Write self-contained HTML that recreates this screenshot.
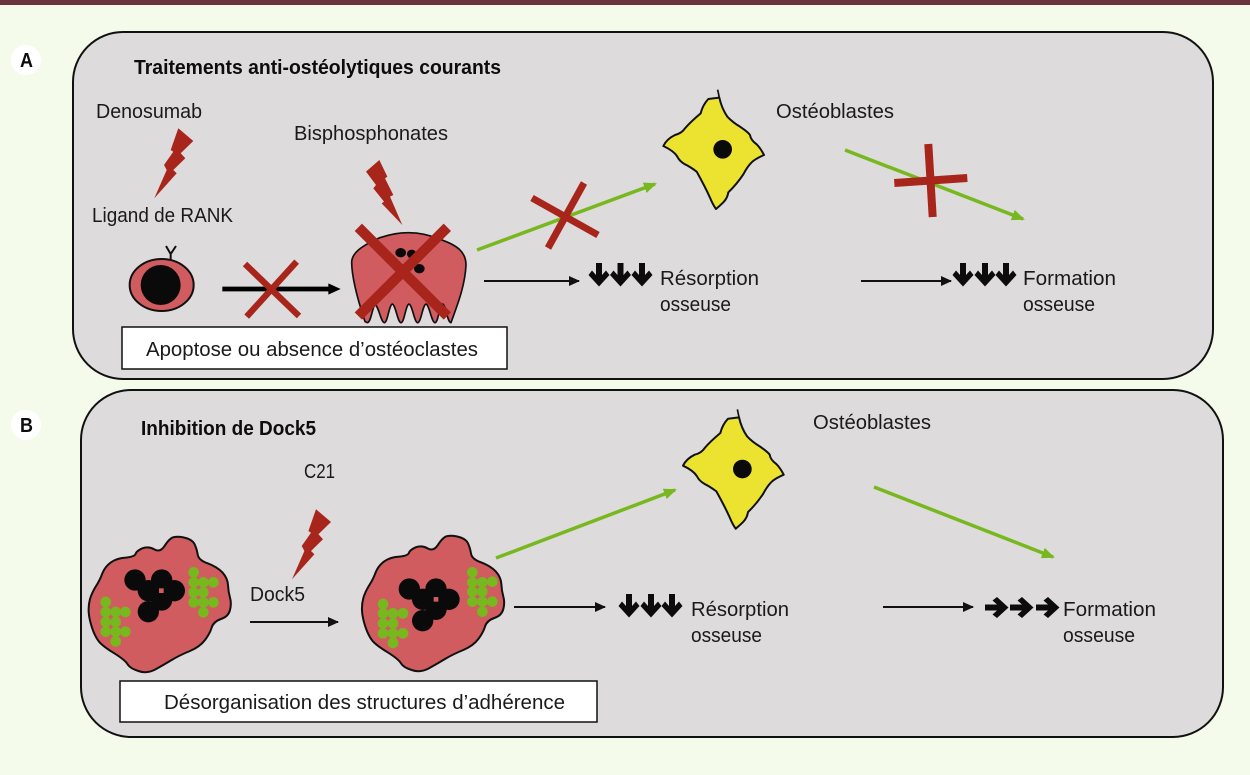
<!DOCTYPE html>
<html lang="fr"><head><meta charset="utf-8"><title>Dock5</title>
<style>html,body{margin:0;padding:0;background:#f5fbea;width:1250px;height:775px;overflow:hidden}svg{display:block}text{font-family:"Liberation Sans",sans-serif;font-size:20px;fill:#1a1a1a}.b{font-weight:bold;fill:#0d0d0d}</style></head><body>
<svg width="1250" height="775" viewBox="0 0 1250 775" xmlns="http://www.w3.org/2000/svg">
<defs>
<marker id="k" markerWidth="11" markerHeight="10" refX="10" refY="5" orient="auto" markerUnits="userSpaceOnUse"><path d="M0 0L11 5L0 10Z" fill="#111"/></marker>
<marker id="g" markerWidth="13" markerHeight="11" refX="11" refY="5.500" orient="auto" markerUnits="userSpaceOnUse"><path d="M0 0L13 5.500L0 11Z" fill="#77b81e"/></marker>
<polygon id="da" points="-3,-12 3,-12 3,0 7,-4.500 10.500,0 0,11.500 -10.500,0 -7,-4.500 -3,0" fill="#0c0c0c"/>
<polygon id="bolt" points="178.300,128.300 193.300,141 180.700,153.300 185.300,158.300 173.300,170 176.700,173.300 154.300,198.300 166.700,170 164,165 173.300,151.700 170.700,150" fill="#a8251c"/>
<g id="yc" transform="translate(640 85) scale(.33333)">
<path d="M238 38Q245 70 262 95Q278 112 300 125Q325 142 330 150Q332 165 350 178Q362 190 372 210Q345 222 335 232Q322 245 310 268Q290 298 265 322Q262 340 250 352Q240 362 228 372Q218 358 210 338Q195 305 170 260Q150 245 135 238Q118 228 112 215Q102 198 70 183Q80 162 105 150Q125 145 135 130Q150 112 182 85Q188 60 205 42Q222 40 238 38Z" fill="#ebe330" stroke="#111" stroke-width="6" stroke-linejoin="round"/>
<path d="M233 14L238 38" stroke="#111" stroke-width="5" fill="none"/>
<circle cx="248" cy="193" r="28" fill="#0a0a0a"/>
</g>
<path id="blob" d="M15 222Q20 205 32 185Q45 165 52 145Q60 125 78 112Q95 100 122 98Q150 95 152 86Q155 78 172 70Q190 63 208 73Q225 83 238 64Q250 45 260 39Q270 33 295 37Q320 42 328 56Q335 70 338 88Q340 105 368 115Q395 125 412 142Q428 160 429 180Q430 200 435 218Q440 235 435 255Q430 275 408 282Q385 290 380 308Q375 325 360 345Q345 365 315 378Q285 390 260 405Q235 420 210 434Q185 447 160 438Q135 430 128 418Q120 405 88 385Q55 365 42 350Q30 335 21 308Q12 280 11 260Q10 240 15 222Z" fill="#d05c60" stroke="#111" stroke-width="6" stroke-linejoin="round"/>
</defs>
<rect width="1250" height="775" fill="#f5fbea"/>
<rect width="1250" height="5" fill="#6b3540"/>
<rect x="73" y="32" width="1140" height="347" rx="50" fill="#dddbdc" stroke="#111" stroke-width="2"/>
<rect x="81" y="390" width="1142" height="347" rx="50" fill="#dddbdc" stroke="#111" stroke-width="2"/>
<circle cx="26" cy="60" r="15" fill="#fff"/><circle cx="26" cy="425" r="15" fill="#fff"/>
<text x="20" y="67" class="b" textLength="13" lengthAdjust="spacingAndGlyphs">A</text>
<text x="20" y="432" class="b" textLength="13" lengthAdjust="spacingAndGlyphs">B</text>

<!-- Panel A text -->
<text x="134" y="74" class="b" textLength="367" lengthAdjust="spacingAndGlyphs">Traitements anti-ostéolytiques courants</text>
<text x="96" y="118" textLength="106" lengthAdjust="spacingAndGlyphs">Denosumab</text>
<text x="92" y="222" textLength="141" lengthAdjust="spacingAndGlyphs">Ligand de RANK</text>
<text x="294" y="140" textLength="154" lengthAdjust="spacingAndGlyphs">Bisphosphonates</text>
<text x="776" y="118" textLength="118" lengthAdjust="spacingAndGlyphs">Ostéoblastes</text>
<text x="660" y="285" textLength="99" lengthAdjust="spacingAndGlyphs">Résorption</text>
<text x="660" y="311" textLength="71" lengthAdjust="spacingAndGlyphs">osseuse</text>
<text x="1023" y="285" textLength="93" lengthAdjust="spacingAndGlyphs">Formation</text>
<text x="1023" y="311" textLength="72" lengthAdjust="spacingAndGlyphs">osseuse</text>

<!-- Panel A graphics -->
<use href="#bolt"/>
<g transform="translate(80 90) scale(.33333)">
<ellipse cx="245" cy="585" rx="96" ry="78" fill="#d05c60" stroke="#111" stroke-width="6"/>
<circle cx="242" cy="585" r="60" fill="#0a0a0a"/>
<path d="M258 468L272 492L288 468M272 492V512" fill="none" stroke="#111" stroke-width="6"/>
<path d="M427 597H750" stroke="#000" stroke-width="14"/><path d="M745 580L782 597L745 614Z" fill="#000"/>
<path d="M495 522L657 678M650 515L500 680" stroke="#a8251c" stroke-width="19"/>
</g>
<g transform="translate(340 150) scale(.33333)">
<polygon points="118,30 78,65 108,105 100,115 132,155 125,160 187,225 150,140 160,135 135,85 142,80" fill="#a8251c"/>
<path d="M75 515C60 470 35 390 35 335C37 310 60 290 115 265C150 252 180 248 205 248C240 248 270 255 300 268C350 285 378 305 378 345C375 410 350 470 333 518C322 518 318 465 308 462C298 465 295 518 285 518C275 518 268 465 258 462C248 465 243 518 233 518C223 518 217 465 207 462C197 465 193 518 183 518C173 518 167 465 157 462C147 465 143 518 133 518C123 518 115 465 105 465C97 470 93 518 82 518Z" fill="#d05c60" stroke="#111" stroke-width="5" stroke-linejoin="round"/>
<ellipse cx="182" cy="308" rx="16" ry="14" fill="#0a0a0a"/><ellipse cx="215" cy="312" rx="14" ry="13" fill="#0a0a0a"/><ellipse cx="238" cy="356" rx="16" ry="14" fill="#0a0a0a"/>
<path d="M55 232L322 498M322 232L55 498" stroke="#a8251c" stroke-width="31"/>
</g>
<rect x="122" y="327" width="385" height="42" fill="#fff" stroke="#111" stroke-width="1.500"/>
<text x="146" y="356" textLength="332" lengthAdjust="spacingAndGlyphs">Apoptose ou absence d’ostéoclastes</text>

<use href="#yc"/>
<path d="M477 250L655 184" stroke="#77b81e" stroke-width="3.500" marker-end="url(#g)"/>
<path d="M845 150L1023 219" stroke="#77b81e" stroke-width="3.500" marker-end="url(#g)"/>
<path d="M532 198L598 235M584 183L548 248" stroke="#a8251c" stroke-width="7"/>
<path d="M928.300 144L932.700 217M894.300 183L967.300 178" stroke="#a8251c" stroke-width="8"/>
<path d="M484 281H579" stroke="#111" stroke-width="2" marker-end="url(#k)"/>
<path d="M861 281H951" stroke="#111" stroke-width="2" marker-end="url(#k)"/>
<use href="#da" x="599" y="275"/><use href="#da" x="620.500" y="275"/><use href="#da" x="642" y="275"/>
<use href="#da" x="963" y="275"/><use href="#da" x="985" y="275"/><use href="#da" x="1006" y="275"/>

<!-- Panel B text -->
<text x="141" y="435" class="b" textLength="175" lengthAdjust="spacingAndGlyphs">Inhibition de Dock5</text>
<text x="304" y="478" textLength="31" lengthAdjust="spacingAndGlyphs">C21</text>
<text x="250" y="601" textLength="55" lengthAdjust="spacingAndGlyphs">Dock5</text>
<text x="813" y="429" textLength="118" lengthAdjust="spacingAndGlyphs">Ostéoblastes</text>
<text x="691" y="616" textLength="98" lengthAdjust="spacingAndGlyphs">Résorption</text>
<text x="691" y="642" textLength="71" lengthAdjust="spacingAndGlyphs">osseuse</text>
<text x="1063" y="616" textLength="93" lengthAdjust="spacingAndGlyphs">Formation</text>
<text x="1063" y="642" textLength="72" lengthAdjust="spacingAndGlyphs">osseuse</text>

<!-- Panel B graphics -->
<use href="#bolt" x="137.700" y="381"/>
<g transform="translate(85 525) scale(.33333)">
<use href="#blob"/>
<g fill="#0a0a0a"><circle cx="150" cy="165" r="32"/><circle cx="230" cy="165" r="32"/><circle cx="268" cy="197" r="32"/><circle cx="230" cy="225" r="32"/><circle cx="190" cy="197" r="32"/><circle cx="190" cy="260" r="32"/><circle cx="228" cy="197" r="30"/></g>
<rect x="222" y="190" width="14" height="14" fill="#d05c60"/>
<g fill="#77b81e">
<circle cx="326" cy="142" r="16"/><circle cx="326" cy="172" r="16"/><circle cx="355" cy="172" r="16"/><circle cx="385" cy="172" r="16"/><circle cx="326" cy="202" r="16"/><circle cx="355" cy="202" r="16"/><circle cx="326" cy="232" r="16"/><circle cx="355" cy="232" r="16"/><circle cx="385" cy="232" r="16"/><circle cx="355" cy="262" r="16"/>
<circle cx="62" cy="231" r="16"/><circle cx="62" cy="261" r="16"/><circle cx="92" cy="261" r="16"/><circle cx="121" cy="261" r="16"/><circle cx="62" cy="291" r="16"/><circle cx="92" cy="291" r="16"/><circle cx="62" cy="320" r="16"/><circle cx="92" cy="320" r="16"/><circle cx="121" cy="320" r="16"/><circle cx="92" cy="349" r="16"/>
</g>
</g>
<g transform="translate(355 525) scale(.33333)">
<use href="#blob" x="10" y="-3"/>
<g fill="#0a0a0a"><circle cx="163" cy="192" r="32"/><circle cx="243" cy="192" r="32"/><circle cx="282" cy="223" r="32"/><circle cx="243" cy="253" r="32"/><circle cx="203" cy="223" r="32"/><circle cx="203" cy="287" r="32"/><circle cx="241" cy="223" r="30"/></g>
<rect x="236" y="216" width="14" height="14" fill="#d05c60"/>
<g fill="#77b81e">
<circle cx="352" cy="142" r="16"/><circle cx="352" cy="172" r="16"/><circle cx="382" cy="172" r="16"/><circle cx="412" cy="170" r="16"/><circle cx="352" cy="200" r="16"/><circle cx="382" cy="200" r="16"/><circle cx="352" cy="230" r="16"/><circle cx="382" cy="230" r="16"/><circle cx="412" cy="230" r="16"/><circle cx="382" cy="260" r="16"/>
<circle cx="84" cy="237" r="16"/><circle cx="84" cy="265" r="16"/><circle cx="114" cy="265" r="16"/><circle cx="144" cy="265" r="16"/><circle cx="84" cy="295" r="16"/><circle cx="114" cy="295" r="16"/><circle cx="84" cy="325" r="16"/><circle cx="114" cy="325" r="16"/><circle cx="144" cy="325" r="16"/><circle cx="114" cy="354" r="16"/>
</g>
</g>
<rect x="120" y="681" width="477" height="41" fill="#fff" stroke="#111" stroke-width="1.500"/>
<text x="164" y="709" textLength="401" lengthAdjust="spacingAndGlyphs">Désorganisation des structures d’adhérence</text>

<use href="#yc" x="19.700" y="319.700"/>
<path d="M496 558L675 490" stroke="#77b81e" stroke-width="3.500" marker-end="url(#g)"/>
<path d="M874 487L1053 557" stroke="#77b81e" stroke-width="3.500" marker-end="url(#g)"/>
<path d="M250 622H338" stroke="#111" stroke-width="2" marker-end="url(#k)"/>
<path d="M514 607H605" stroke="#111" stroke-width="2" marker-end="url(#k)"/>
<path d="M883 607H973" stroke="#111" stroke-width="2" marker-end="url(#k)"/>
<use href="#da" x="629" y="606"/><use href="#da" x="651" y="606"/><use href="#da" x="672" y="606"/>
<use href="#da" transform="translate(997 607.500) rotate(-90)"/>
<use href="#da" transform="translate(1022 607.500) rotate(-90)"/>
<use href="#da" transform="translate(1048 607.500) rotate(-90)"/>
</svg>
</body></html>
